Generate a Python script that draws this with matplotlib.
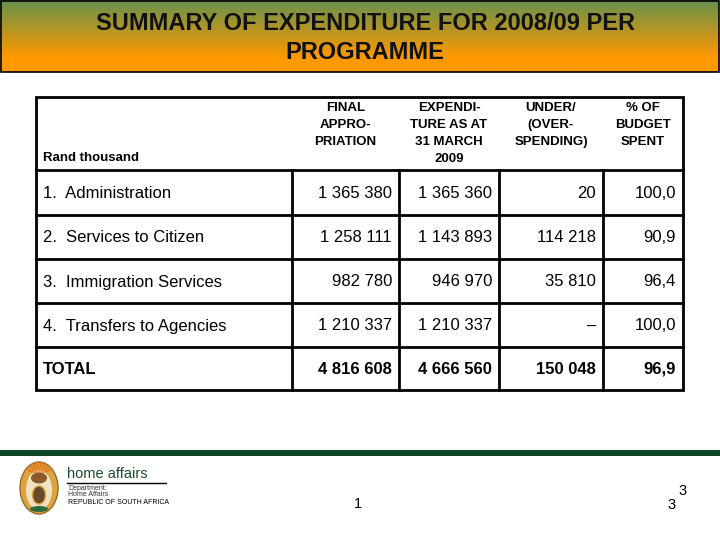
import numpy as np
import matplotlib.pyplot as plt
from matplotlib.patches import Rectangle, Ellipse, Wedge

plt.rcParams['font.family'] = ['Liberation Sans', 'DejaVu Sans']

title = "SUMMARY OF EXPENDITURE FOR 2008/09 PER\nPROGRAMME"
headers = ["FINAL\nAPPRO-\nPRIATION", "EXPENDI-\nTURE AS AT\n31 MARCH\n2009",
           "UNDER/\n(OVER-\nSPENDING)", "% OF\nBUDGET\nSPENT"]
unit_label = "Rand thousand"
programmes = ["1.  Administration", "2.  Services to Citizen", "3.  Immigration Services",
              "4.  Transfers to Agencies", "TOTAL"]
final_appropriation = ["1 365 380", "1 258 111", "982 780", "1 210 337", "4 816 608"]
expenditure = ["1 365 360", "1 143 893", "946 970", "1 210 337", "4 666 560"]
under_spending = ["20", "114 218", "35 810", "\u2013", "150 048"]
pct_spent = ["100,0", "90,9", "96,4", "100,0", "96,9"]

fig = plt.figure(figsize=(7.2, 5.4), dpi=100)
ax = fig.add_axes([0, 0, 1, 1])
ax.set_xlim(0, 720)
ax.set_ylim(540, 0)
ax.axis('off')

# title bar, green fading into orange
grad = np.linspace(0, 1, 100)
green = np.array([0.40, 0.57, 0.30])
orange = np.array([1.0, 0.60, 0.0])
t = np.clip(grad / 0.8, 0, 1)
img = green * (1 - t)[:, None] + orange * t[:, None]
img = img.reshape(100, 1, 3)
ax.imshow(img, extent=[0, 719, 72, 0], aspect='auto', zorder=0)
ax.add_patch(Rectangle((0.5, 0.5), 718.5, 71.5, fill=False, lw=1.2, ec='black', zorder=2))
ax.text(365, 38, title, ha='center', va='center', fontsize=17, fontweight='bold',
        linespacing=1.38, color='#111111')

# table grid
xs = [36, 292, 399, 499, 603, 683]
ys = [97, 170, 215, 259, 303, 347, 390]
lw = 2.0
ax.add_patch(Rectangle((xs[0], ys[0]), xs[-1] - xs[0], ys[-1] - ys[0], fill=False, lw=lw, ec='black'))
for y in ys[1:-1]:
    ax.plot([xs[0], xs[-1]], [y, y], color='black', lw=lw)
for x in xs[1:-1]:
    ax.plot([x, x], [ys[1], ys[-1]], color='black', lw=lw)

# header
for i, h in enumerate(headers):
    cx = (xs[i + 1] + xs[i + 2]) / 2
    ax.text(cx, 102, h, ha='center', va='top', fontsize=9.5, fontweight='bold', linespacing=1.56)
ax.text(43, 158, unit_label, ha='left', va='center', fontsize=9.5, fontweight='bold')

# rows
cols = [final_appropriation, expenditure, under_spending, pct_spent]
for r, name in enumerate(programmes):
    cy = (ys[r + 1] + ys[r + 2]) / 2 + 1
    w = 'bold' if name == "TOTAL" else 'normal'
    ax.text(43, cy, name, ha='left', va='center', fontsize=12, fontweight=w)
    for c, col in enumerate(cols):
        ax.text(xs[c + 2] - 7, cy, col[r], ha='right', va='center', fontsize=12, fontweight=w)

# footer
ax.add_patch(Rectangle((0, 450), 720, 6, color='#0f4522', lw=0))

# rough coat of arms
ax.add_patch(Ellipse((39, 488), 38, 52, fc='#d9a441', ec='#9b6a25', lw=1))
ax.add_patch(Ellipse((39, 490), 26, 40, fc='#f2e2c0', ec='none'))
for a in range(20, 170, 20):
    ax.add_patch(Wedge((39, 474), 12, -a - 6, -a + 6, fc='#e8761e', ec='none'))
ax.add_patch(Ellipse((39, 478), 16, 11, fc='#8a5a2b', ec='none'))
ax.add_patch(Ellipse((39, 495), 13, 18, fc='#6b4a2a', ec='#d9a441', lw=1))
ax.add_patch(Ellipse((39, 509), 18, 6, fc='#2f6b3a', ec='none'))

ax.text(67, 474, "home affairs", ha='left', va='center', fontsize=10.5, color='#1b4d2a')
ax.plot([67, 166], [483, 483], color='black', lw=1)
ax.text(68, 489, "Department:", ha='left', va='center', fontsize=5, color='#333333')
ax.text(68, 495, "Home Affairs", ha='left', va='center', fontsize=5, color='#333333')
ax.text(68, 502, "REPUBLIC OF SOUTH AFRICA", ha='left', va='center', fontsize=5, color='black')

ax.text(358, 504, "1", ha='center', va='center', fontsize=10.5)
ax.text(672, 505, "3", ha='center', va='center', fontsize=10.5)
ax.text(683, 491, "3", ha='center', va='center', fontsize=10.5)

fig.savefig("out.png", dpi=100)
